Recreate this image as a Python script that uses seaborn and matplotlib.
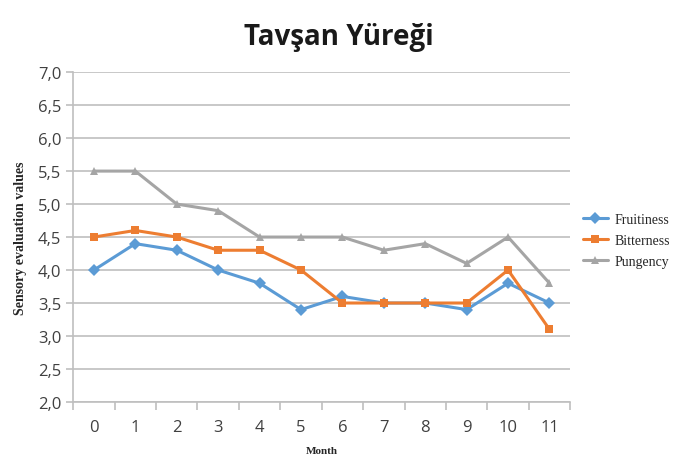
import numpy as np
import pandas as pd
import matplotlib
matplotlib.use("Agg")
import matplotlib.pyplot as plt
from matplotlib.ticker import FuncFormatter, FixedLocator
import seaborn as sns

months = list(range(12))
fruitiness = [4.0, 4.4, 4.3, 4.0, 3.8, 3.4, 3.6, 3.5, 3.5, 3.4, 3.8, 3.5]
bitterness = [4.5, 4.6, 4.5, 4.3, 4.3, 4.0, 3.5, 3.5, 3.5, 3.5, 4.0, 3.1]
pungency = [5.5, 5.5, 5.0, 4.9, 4.5, 4.5, 4.5, 4.3, 4.4, 4.1, 4.5, 3.8]
series_names = ["Fruitiness", "Bitterness", "Pungency"]

df = pd.DataFrame({
    "Month": months * 3,
    "value": fruitiness + bitterness + pungency,
    "series": sum([[n] * 12 for n in series_names], []),
})

sns.set_style("white")
fig = plt.figure(figsize=(6.78, 4.6), dpi=100)
ax = fig.add_axes([0.108, 0.124, 0.733, 0.717])

palette = {"Fruitiness": "#5B9BD5", "Bitterness": "#ED7D31", "Pungency": "#A5A5A5"}
markers = {"Fruitiness": "D", "Bitterness": "s", "Pungency": "^"}
sns.lineplot(data=df, x="Month", y="value", hue="series", style="series",
             palette=palette, markers=markers, dashes=False, sort=False,
             linewidth=2.2, markersize=6, markeredgewidth=0, ax=ax)

ax.set_xlim(-0.5, 11.5)
ax.set_ylim(2.0, 7.0)
ax.set_yticks(np.arange(2.0, 7.01, 0.5))
ax.yaxis.set_major_formatter(FuncFormatter(lambda v, p: f"{v:.1f}".replace(".", ",")))
ax.grid(axis="y", color="#BFBFBF", linewidth=1.2)
ax.set_axisbelow(True)

ax.set_xticks(months)
ax.set_xticklabels([str(m) for m in months])
ax.xaxis.set_minor_locator(FixedLocator(np.arange(-0.5, 11.6, 1)))
ax.tick_params(axis="x", which="major", length=0, pad=12, labelsize=12)
ax.tick_params(axis="x", which="minor", length=6, color="#BFBFBF", width=1.2, bottom=True)
ax.tick_params(axis="y", length=5, color="#BFBFBF", width=1.2, left=True, labelsize=12)
for lab in ax.get_xticklabels() + ax.get_yticklabels():
    lab.set_fontfamily("Open Sans")
    lab.set_color("#404040")

for s in ["top", "right"]:
    ax.spines[s].set_visible(False)
for s in ["left", "bottom"]:
    ax.spines[s].set_color("#BFBFBF")
    ax.spines[s].set_linewidth(1.2)

ax.set_xlabel("Month", fontfamily="Liberation Serif", fontweight="bold", fontsize=8, labelpad=8)
ax.set_ylabel("Sensory evaluation values", fontfamily="Liberation Serif", fontweight="bold",
              fontsize=10, labelpad=8)
fig.suptitle("Tavşan Yüreği", x=0.5, y=0.95, fontfamily="Open Sans", fontweight="bold",
             fontsize=20, color="#1a1a1a")

handles, labels = ax.get_legend_handles_labels()
ax.legend(handles, labels, loc="center left", bbox_to_anchor=(1.02, 0.49), frameon=False,
          borderaxespad=0, borderpad=0.2, handletextpad=0.5,
          prop={"family": "Liberation Serif", "size": 10}, handlelength=1.8, labelspacing=0.6)

fig.savefig("out.png", dpi=100)
